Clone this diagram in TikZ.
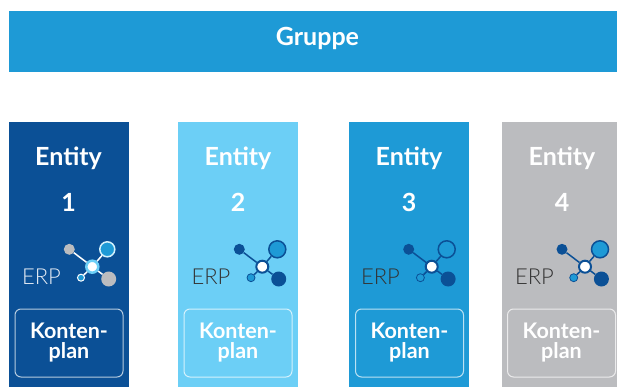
\documentclass[tikz,border=0pt]{standalone}
\usepackage{xcolor}
\usepackage{fontspec}
\setmainfont{Lato}
\newfontfamily\erpfont{Lato Light}

\definecolor{darkblue}{HTML}{0B5096}
\definecolor{midblue}{HTML}{1E9AD6}
\definecolor{lightblue}{HTML}{6CCFF6}
\definecolor{lightgray}{HTML}{BBBCBF}

\tikzset{
  column/.style={draw=none,inner sep=0pt,minimum width=#1,minimum height=265pt},
  title/.style={text=white,font=\fontsize{25}{25}\selectfont\bfseries,inner sep=0pt},
  plan/.style={draw=white!70!#1,fill=#1,text=white,rounded corners=6pt,line width=1pt,
    align=center,inner sep=0pt,minimum width=108pt,minimum height=68pt,
    font=\fontsize{21.5}{20}\selectfont\bfseries},
  erp/.style={text=#1,font=\fontsize{22}{22}\erpfont,inner sep=0pt},
  dot/.style={circle,inner sep=0pt,minimum size=#1},
  link/.style={line width=1.5pt}
}

\begin{document}
\begin{tikzpicture}[x=1pt,y=-1pt]
  \useasboundingbox (0,0) rectangle (617,387);

  % Gruppe
  \node[fill=midblue,minimum width=608pt,minimum height=61pt,inner sep=0pt] (GroupBar) at (313,41.5) {};
  \node[text=white,font=\fontsize{25}{25}\selectfont\bfseries,inner sep=0pt] (GroupText) at (317.5,38.5) {Gruppe};

  % Entity 1
  \node[column=120pt,fill=darkblue] (ColumnA) at (69,254.5) {};
  \node[title] (EntityA) at (68.5,158) {Entity};
  \node[title] (NumberA) at (68.5,202) {1};
  \node[erp=white!90!darkblue] (ErpA) at (41.5,276.5) {ERP};
  \node[plan=darkblue] (PlanA) at (69,343) {Konten-\\plan};
  \node[dot=11pt,fill=lightgray] (TopLeftA) at (69.3,249.3) {};
  \node[dot=15pt,fill=midblue,draw=white!70!lightblue,line width=1.5pt] (TopRightA) at (107.3,249.3) {};
  \node[dot=15pt,fill=lightgray] (BottomRightA) at (108.7,279) {};
  \node[dot=7pt,fill=midblue,draw=white,line width=1pt] (BottomLeftA) at (81,277.7) {};
  \node[dot=12pt,fill=white,draw=lightblue,line width=2.5pt] (CenterA) at (92.3,266.7) {};
  \begin{scope}[on background layer/.try]
  \draw[link,draw=white] (CenterA) to (TopLeftA);
  \draw[link,draw=white] (CenterA) to (TopRightA);
  \draw[link,draw=white] (CenterA) to (BottomRightA);
  \draw[link,draw=white] (CenterA) to (BottomLeftA);
  \end{scope}

  % Entity 2
  \node[column=120pt,fill=lightblue] (ColumnB) at (238,254.5) {};
  \node[title] (EntityB) at (238,158) {Entity};
  \node[title] (NumberB) at (238,202) {2};
  \node[erp=black!80] (ErpB) at (211,276.5) {ERP};
  \node[plan=lightblue] (PlanB) at (238,343) {Konten-\\plan};
  \node[dot=11pt,fill=darkblue] (TopLeftB) at (239.3,249.3) {};
  \node[dot=17pt,fill=midblue,draw=darkblue,line width=1.5pt] (TopRightB) at (277.3,249.3) {};
  \node[dot=15pt,fill=darkblue] (BottomRightB) at (278.7,279) {};
  \node[dot=8pt,fill=midblue,draw=darkblue,line width=0.8pt] (BottomLeftB) at (251,277.7) {};
  \node[dot=12pt,fill=white,draw=darkblue,line width=2pt] (CenterB) at (262.3,266.7) {};
  \draw[link,draw=darkblue] (CenterB) to (TopLeftB);
  \draw[link,draw=darkblue] (CenterB) to (TopRightB);
  \draw[link,draw=darkblue] (CenterB) to (BottomRightB);
  \draw[link,draw=darkblue] (CenterB) to (BottomLeftB);

  % Entity 3
  \node[column=120pt,fill=midblue] (ColumnC) at (409,254.5) {};
  \node[title] (EntityC) at (409,158) {Entity};
  \node[title] (NumberC) at (409,202) {3};
  \node[erp=black!80] (ErpC) at (380.5,276.5) {ERP};
  \node[plan=midblue] (PlanC) at (409.5,343) {Konten-\\plan};
  \node[dot=11pt,fill=darkblue] (TopLeftC) at (408.7,249.3) {};
  \node[dot=17pt,fill=midblue,draw=darkblue,line width=1.5pt] (TopRightC) at (446.7,249.3) {};
  \node[dot=15pt,fill=darkblue] (BottomRightC) at (448.1,279) {};
  \node[dot=8pt,fill=midblue,draw=darkblue,line width=0.8pt] (BottomLeftC) at (420.4,277.7) {};
  \node[dot=12pt,fill=white,draw=darkblue,line width=2pt] (CenterC) at (431.7,266.7) {};
  \draw[link,draw=darkblue] (CenterC) to (TopLeftC);
  \draw[link,draw=darkblue] (CenterC) to (TopRightC);
  \draw[link,draw=darkblue] (CenterC) to (BottomRightC);
  \draw[link,draw=darkblue] (CenterC) to (BottomLeftC);

  % Entity 4
  \node[column=115pt,fill=lightgray] (ColumnD) at (559.5,254.5) {};
  \node[title] (EntityD) at (562,158) {Entity};
  \node[title] (NumberD) at (562,202) {4};
  \node[erp=black!80] (ErpD) at (534.5,276.5) {ERP};
  \node[plan=lightgray] (PlanD) at (561.5,343) {Konten-\\plan};
  \node[dot=11pt,fill=darkblue] (TopLeftD) at (562,249.3) {};
  \node[dot=17pt,fill=midblue,draw=darkblue,line width=1.5pt] (TopRightD) at (600,249.3) {};
  \node[dot=15pt,fill=darkblue] (BottomRightD) at (601.4,279) {};
  \node[dot=8pt,fill=midblue,draw=darkblue,line width=0.8pt] (BottomLeftD) at (573.7,277.7) {};
  \node[dot=12pt,fill=white,draw=darkblue,line width=2pt] (CenterD) at (585,266.7) {};
  \draw[link,draw=darkblue] (CenterD) to (TopLeftD);
  \draw[link,draw=darkblue] (CenterD) to (TopRightD);
  \draw[link,draw=darkblue] (CenterD) to (BottomRightD);
  \draw[link,draw=darkblue] (CenterD) to (BottomLeftD);

\end{tikzpicture}
\end{document}
